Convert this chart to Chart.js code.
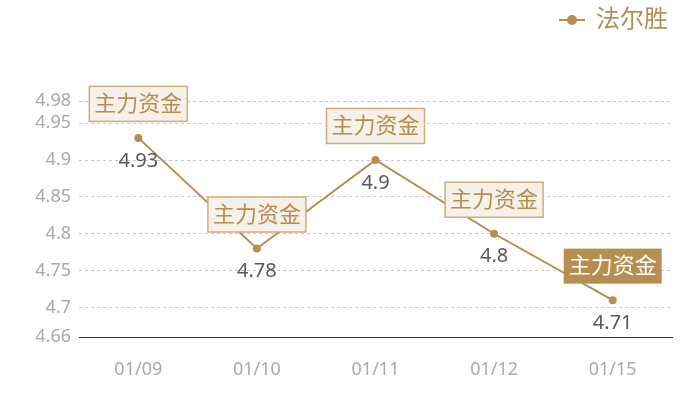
<!DOCTYPE html>
<html>
<head>
<meta charset="utf-8">
<script src="https://cdn.jsdelivr.net/npm/chart.js"></script>
<style>
  html, body { margin: 0; padding: 0; background: #fff; }
  #box { width: 700px; height: 400px; position: relative; }
</style>
</head>
<body>
<div id="box"><canvas id="chart"></canvas></div>
<script>
// ---- data ----
const dates = ["01/09", "01/10", "01/11", "01/12", "01/15"];
const prices = [4.93, 4.78, 4.9, 4.8, 4.71];
const tags = ["主力资金", "主力资金", "主力资金", "主力资金", "主力资金"];
const tagActive = [false, false, false, false, true];
const yTicks = [4.66, 4.7, 4.75, 4.8, 4.85, 4.9, 4.95, 4.98];

const GOLD = "#b68e4f";
const FONT = "'Noto Sans', 'Noto Sans CJK SC', sans-serif";

// legend icon: short line with a dot
const icon = document.createElement("canvas");
icon.width = 26; icon.height = 12;
(function () {
  const c = icon.getContext("2d");
  c.strokeStyle = GOLD; c.lineWidth = 2;
  c.beginPath(); c.moveTo(0, 6); c.lineTo(26, 6); c.stroke();
  c.fillStyle = GOLD;
  c.beginPath(); c.arc(13, 6, 5, 0, Math.PI * 2); c.fill();
})();

// labels above / below each point
const pointLabels = {
  id: "pointLabels",
  afterDatasetsDraw(chart) {
    const ctx = chart.ctx;
    const meta = chart.getDatasetMeta(0);
    ctx.save();
    meta.data.forEach((pt, i) => {
      // value below
      ctx.font = "20px " + FONT;
      ctx.fillStyle = "#595959";
      ctx.textAlign = "center";
      ctx.textBaseline = "middle";
      ctx.fillText(String(prices[i]), pt.x, pt.y + 23);

      // tag box above
      ctx.font = "22px " + FONT;
      const w = ctx.measureText(tags[i]).width + 10;
      const h = 35;
      const cx = pt.x, cy = pt.y - 34;
      if (tagActive[i]) {
        ctx.fillStyle = GOLD;
        ctx.fillRect(cx - w / 2, cy - h / 2, w, h);
        ctx.fillStyle = "#fff";
      } else {
        ctx.fillStyle = "#f5f0e9";
        ctx.fillRect(cx - w / 2, cy - h / 2, w, h);
        ctx.strokeStyle = "#cfae7a";
        ctx.lineWidth = 1.5;
        ctx.strokeRect(cx - w / 2, cy - h / 2, w, h);
        ctx.fillStyle = GOLD;
      }
      ctx.fillText(tags[i], cx, cy + 1);
    });
    ctx.restore();
  }
};

// push chart area down below the legend
const legendGap = {
  id: "legendGap",
  beforeInit(chart) {
    const fit = chart.legend.fit;
    chart.legend.fit = function () {
      fit.bind(chart.legend)();
      this.height += 59;
    };
  }
};

new Chart(document.getElementById("chart"), {
  type: "line",
  data: {
    labels: dates,
    datasets: [{
      label: "法尔胜",
      data: prices,
      borderColor: GOLD,
      backgroundColor: GOLD,
      borderWidth: 2,
      tension: 0,
      pointRadius: 4,
      pointHoverRadius: 4,
      pointBackgroundColor: GOLD,
      pointBorderWidth: 0
    }]
  },
  options: {
    responsive: true,
    maintainAspectRatio: false,
    animation: false,
    layout: { padding: { top: 4, right: 28, bottom: 0, left: 0 } },
    plugins: {
      tooltip: { enabled: false },
      legend: {
        position: "top",
        align: "end",
        labels: {
          usePointStyle: true,
          pointStyle: icon,
          color: GOLD,
          font: { size: 24, family: FONT },
          padding: 4,
          generateLabels(chart) {
            return [{
              text: "法尔胜",
              fontColor: GOLD,
              pointStyle: icon,
              datasetIndex: 0,
              hidden: false,
              lineWidth: 0
            }];
          }
        }
      }
    },
    scales: {
      x: {
        offset: true,
        grid: { display: false, drawTicks: false },
        border: { color: "#333", width: 1 },
        ticks: { color: "#aaa", font: { size: 18, family: FONT }, padding: 22 },
        afterFit(s) { s.height = 63; }
      },
      y: {
        min: 4.66,
        max: 4.98,
        afterBuildTicks(s) { s.ticks = yTicks.map(v => ({ value: v })); },
        afterFit(s) { s.width = 79; },
        border: { display: false, dash: [3, 3] },
        grid: {
          drawTicks: false,
          color: ctx => ctx.tick && ctx.tick.value === 4.66 ? "rgba(0,0,0,0)" : "#c8c8c8"
        },
        ticks: {
          color: "#aaa",
          font: { size: 18, family: FONT },
          padding: 8,
          callback: v => String(v)
        }
      }
    }
  },
  plugins: [pointLabels, legendGap]
});
</script>
</body>
</html>
